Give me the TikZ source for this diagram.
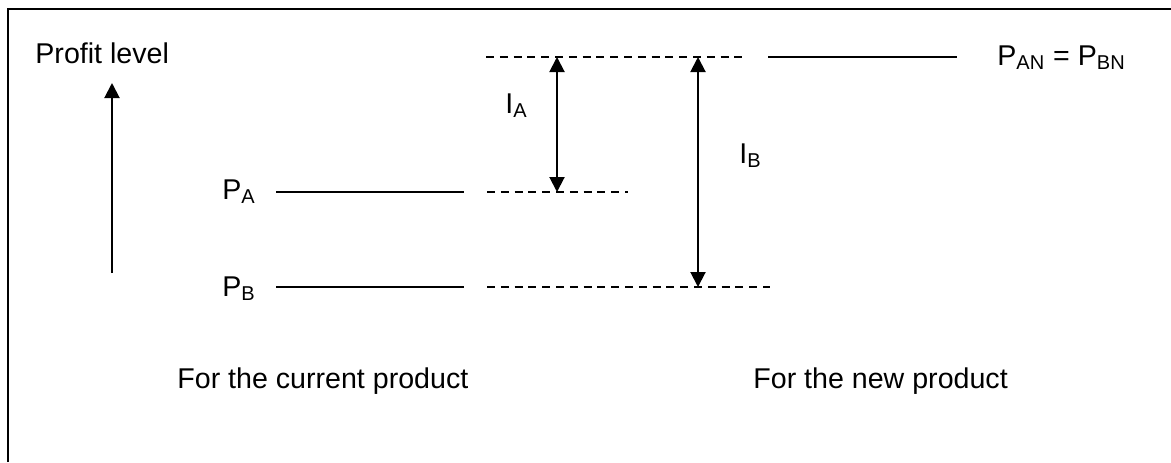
\documentclass[tikz,border=0pt]{standalone}
\usepackage{fontspec}
\setmainfont{Liberation Sans}
\usetikzlibrary{arrows.meta,positioning}

\begin{document}
\begin{tikzpicture}[x=0.5pt,y=-0.5pt,
    every node/.style={font=\fontsize{14.3}{17}\selectfont,inner sep=0pt,anchor=base west},
    level/.style={line width=1pt},
    gap/.style={line width=1pt,dash pattern=on 4pt off 2.9pt},
    tip/.style={-{Triangle[width=7.5pt,length=7.5pt]}},
    span/.style={line width=1pt,{Triangle[width=7.5pt,length=7.5pt]}-{Triangle[width=7.5pt,length=7.5pt]}}]
    \useasboundingbox (0,0) rectangle (1171,462);
    % frame, only top and left show
    \draw[line width=1pt] (8,462) -- (8,9) -- (1171,9);

    % axis
    \node (profit) at (35,63) {Profit level};
    \coordinate (low) at (112,273);
    \coordinate (high) at (112,83);
    \draw[line width=1pt,tip] (low) -- (high);

    % current profit levels
    \node (PA) at (222,199) {P\textsubscript{A}};
    \node (PB) at (222,296) {P\textsubscript{B}};
    \foreach \lv/\y/\e in {A/192/628,B/287/770} {
        \coordinate (\lv0) at (276,\y);
        \coordinate (\lv1) at (464,\y);
        \coordinate (\lv2) at (487,\y);
        \coordinate (\lv3) at (\e,\y);
        \draw[level] (\lv0) -- (\lv1);
        \draw[gap] (\lv2) -- (\lv3);
    }

    % new profit level
    \coordinate (N0) at (486,57);
    \coordinate (N1) at (747,57);
    \coordinate (N2) at (768,57);
    \coordinate (N3) at (957,57);
    \draw[gap] (N0) -- (N1);
    \draw[level] (N2) -- (N3);
    \node (PN) at (997,65) {P\textsubscript{AN} = P\textsubscript{BN}};

    % increases
    \coordinate (IAtop) at (557,57);
    \coordinate (IAbot) at (557,192);
    \coordinate (IBtop) at (698,57);
    \coordinate (IBbot) at (698,287);
    \draw[span] (IAtop) -- (IAbot);
    \draw[span] (IBtop) -- (IBbot);
    \node (IA) at (505,113) {I\textsubscript{A}};
    \node (IB) at (739,163) {I\textsubscript{B}};

    \node (cur) at (177,388) {For the current product};
    \node (new) at (753,388) {For the new product};
\end{tikzpicture}
\end{document}
